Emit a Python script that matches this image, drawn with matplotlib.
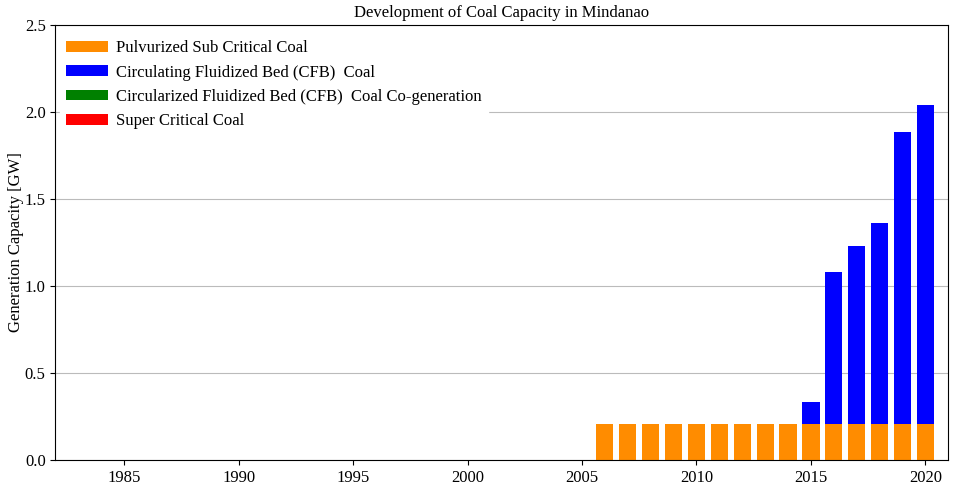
import matplotlib
matplotlib.use("Agg")
import matplotlib.pyplot as plt

plt.rcParams['font.family'] = ['Liberation Serif', 'DejaVu Serif']

years = list(range(2006, 2021))
pulverized = [0.21] * 15
cfb = [0, 0, 0, 0, 0, 0, 0, 0, 0, 0.125, 0.87, 1.02, 1.15, 1.675, 1.83]
cfb_cogen = [0] * 15
super_critical = [0] * 15

labels = ['Pulvurized Sub Critical Coal',
          'Circulating Fluidized Bed (CFB)  Coal',
          'Circularized Fluidized Bed (CFB)  Coal Co-generation',
          'Super Critical Coal']
colors = ['darkorange', 'blue', 'green', 'red']

fig, ax = plt.subplots(figsize=(9.55, 4.9), dpi=100)
fig.subplots_adjust(left=0.058, right=0.993, top=0.949, bottom=0.061)

bottom = [0] * len(years)
for series, lab, col in zip([pulverized, cfb, cfb_cogen, super_critical], labels, colors):
    ax.bar(years, series, width=0.75, bottom=bottom, color=col, label=lab, zorder=2)
    bottom = [b + s for b, s in zip(bottom, series)]

ax.set_xlim(1982, 2021)
ax.set_ylim(0, 2.5)
ax.set_xticks(range(1985, 2021, 5))
ax.set_yticks([0, 0.5, 1.0, 1.5, 2.0, 2.5])
ax.yaxis.grid(True, color='#bbbbbb', linewidth=0.8, zorder=0)
ax.set_axisbelow(True)
ax.tick_params(labelsize=12)
ax.set_ylabel('Generation Capacity [GW]', fontsize=12, labelpad=0.5)
ax.set_title('Development of Coal Capacity in Mindanao', fontsize=12)

leg = ax.legend(loc='upper left', bbox_to_anchor=(0, 0.99), fontsize=12,
                frameon=True, framealpha=1, edgecolor='white', fancybox=False,
                handlelength=2.5, handleheight=0.6, labelspacing=0.5,
                handletextpad=0.5, borderaxespad=0.3, borderpad=0.35)

fig.savefig('out.png', dpi=100)
